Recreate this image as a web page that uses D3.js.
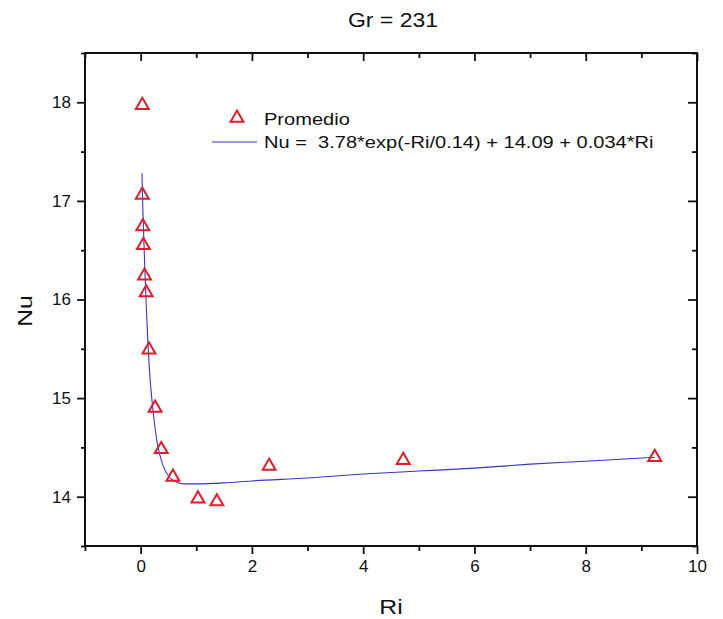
<!DOCTYPE html>
<html>
<head>
<meta charset="utf-8">
<script src="https://cdn.jsdelivr.net/npm/d3@7"></script>
<style>
  body { margin: 0; background: #fff; }
  svg { display: block; font-family: "Liberation Sans", Arial, sans-serif; }
</style>
</head>
<body>
<svg width="723" height="619"></svg>
<script>
// measured points (Promedio)
const ri = [0.03, 0.03, 0.04, 0.05, 0.07, 0.10, 0.15, 0.26, 0.37, 0.58, 1.03, 1.37, 2.31, 4.72, 9.24];
const nu = [17.97, 17.06, 16.74, 16.55, 16.24, 16.07, 15.49, 14.90, 14.48, 14.20, 13.98, 13.95, 14.31, 14.37, 14.40];

// fitted curve
const fitRi = [0.024, 0.04, 0.06, 0.08, 0.1, 0.13, 0.16, 0.2, 0.25, 0.3, 0.4, 0.5, 0.6, 0.8, 1.0, 1.5, 2, 3, 4, 5, 6, 7, 8, 9.24];
const fitNu = [17.28, 16.92, 16.56, 16.24, 15.95, 15.57, 15.27, 15.0, 14.74, 14.54, 14.32, 14.21, 14.16, 14.13, 14.13, 14.14, 14.16, 14.19, 14.23, 14.26, 14.29, 14.33, 14.36, 14.40];

const xMajor = [0, 2, 4, 6, 8, 10];
const xMinor = [-1, 1, 3, 5, 7, 9];
const yMajor = [14, 15, 16, 17, 18];
const yMinor = [13.5, 14.5, 15.5, 16.5, 17.5, 18.5];

const title = 'Gr = 231';
const xLabel = 'Ri';
const yLabel = 'Nu';
const legendPts = 'Promedio';
const legendFit = 'Nu =  3.78*exp(-Ri/0.14) + 14.09 + 0.034*Ri';

const svg = d3.select('svg');
const box = { left: 85, right: 697, top: 53, bottom: 546 };
const red = '#dc1f2b';
const blue = '#3535c8';
const stretch = 1.18; // the source text is a bit wide

svg.append('rect').attr('width', 723).attr('height', 619).attr('fill', '#fff');

const x = d3.scaleLinear().domain([-1, 10]).range([box.left, box.right]);
const y = d3.scaleLinear().domain([13.5, 18.5]).range([box.bottom, box.top]);

function axis (gen, tx, ty, vals, size, labels) {
  const g = svg.append('g')
    .attr('transform', `translate(${tx},${ty})`)
    .call(gen.tickValues(vals).tickSize(size).tickPadding(6)
      .tickFormat(labels ? d3.format('d') : ''));
  g.select('.domain').remove();
  g.selectAll('line').attr('stroke', '#111').attr('stroke-width', 1.8);
  g.selectAll('text').attr('font-size', 17).attr('fill', '#111')
    .attr('font-family', '"Liberation Sans", Arial, sans-serif');
  return g;
}

function label (txt, px, py, size, anchor, rot) {
  const t = svg.append('text')
    .attr('transform', `translate(${px},${py})` + (rot ? `rotate(${rot})` : '') + `scale(${stretch},1)`)
    .attr('font-size', size).attr('fill', '#111')
    .attr('text-anchor', anchor || 'start')
    .style('white-space', 'pre')
    .text(txt);
  return t;
}

// bottom + left: outward ticks with labels
axis(d3.axisBottom(x), 0, box.bottom, xMajor, 8, true);
axis(d3.axisBottom(x), 0, box.bottom, xMinor, 5, false);
axis(d3.axisLeft(y), box.left, 0, yMajor, 8, true);
axis(d3.axisLeft(y), box.left, 0, yMinor, 4, false);
// top + right: inward ticks
axis(d3.axisBottom(x), 0, box.top, xMajor, 8, false);
axis(d3.axisBottom(x), 0, box.top, xMinor, 5, false);
axis(d3.axisLeft(y), box.right, 0, yMajor, 9, false);
axis(d3.axisLeft(y), box.right, 0, yMinor, 5, false);

svg.append('rect')
  .attr('x', box.left).attr('y', box.top)
  .attr('width', box.right - box.left).attr('height', box.bottom - box.top)
  .attr('fill', 'none').attr('stroke', '#111').attr('stroke-width', 2);

// fit line
const line = d3.line()
  .x((d, i) => x(fitRi[i]))
  .y((d, i) => y(fitNu[i]))
  .curve(d3.curveMonotoneX);
svg.append('path')
  .attr('d', line(fitRi))
  .attr('fill', 'none').attr('stroke', blue).attr('stroke-width', 1.1);

// points
const tri = d3.symbol().type(d3.symbolTriangle).size(72);
svg.append('g').selectAll('path')
  .data(ri)
  .join('path')
  .attr('transform', (d, i) => `translate(${x(d)},${y(nu[i])})`)
  .attr('d', tri)
  .attr('fill', 'none').attr('stroke', red).attr('stroke-width', 2);

// legend
svg.append('path')
  .attr('transform', 'translate(237,118)')
  .attr('d', tri)
  .attr('fill', 'none').attr('stroke', red).attr('stroke-width', 2);
label(legendPts, 264, 125, 17);
svg.append('line').attr('x1', 212).attr('x2', 257).attr('y1', 142).attr('y2', 142)
  .attr('stroke', blue).attr('stroke-width', 1.1);
label(legendFit, 264, 148, 17);

// titles
label(title, 393, 27, 19.5, 'middle');
label(xLabel, (box.left + box.right) / 2, 614, 21, 'middle');
label(yLabel, 32, 311, 21, 'middle', -90);
</script>
</body>
</html>
